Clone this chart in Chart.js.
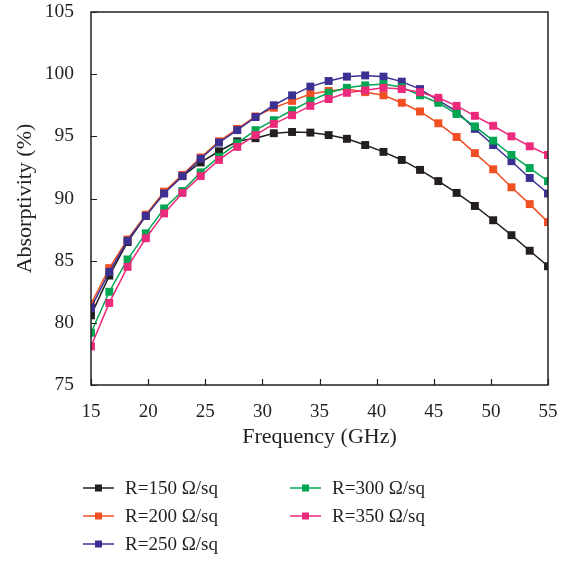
<!DOCTYPE html>
<html lang="en">
<head>
<meta charset="UTF-8">
<title>Absorptivity vs Frequency</title>
<script src="https://cdn.jsdelivr.net/npm/chart.js"></script>
<style>
  html, body { margin: 0; padding: 0; background: #fff; }
  #wrap { width: 576px; height: 561px; }
</style>
</head>
<body>
<div id="wrap"><canvas id="absChart" width="576" height="561"></canvas></div>
<script>
// frequency points (GHz)
const frequency = [15, 16.6, 18.2, 19.8, 21.4, 23, 24.6, 26.2, 27.8, 29.4, 31, 32.6, 34.2,
                   35.8, 37.4, 39, 40.6, 42.2, 43.8, 45.4, 47, 48.6, 50.2, 51.8, 53.4, 55];

// absorptivity (%) for each sheet resistance
const r150 = [80.6, 83.8, 86.5, 88.6, 90.5, 91.8, 92.9, 93.8, 94.6, 94.85, 95.25, 95.35, 95.3,
              95.1, 94.8, 94.3, 93.75, 93.1, 92.3, 91.4, 90.45, 89.4, 88.25, 87.05, 85.8, 84.55];
const r200 = [81.5, 84.4, 86.7, 88.7, 90.55, 91.9, 93.3, 94.6, 95.6, 96.6, 97.3, 97.85, 98.4,
              98.65, 98.8, 98.55, 98.3, 97.7, 97.0, 96.05, 94.95, 93.65, 92.35, 90.9, 89.55, 88.1];
const r250 = [81.2, 84.1, 86.6, 88.6, 90.4, 91.8, 93.2, 94.5, 95.5, 96.55, 97.5, 98.3, 99.0,
              99.45, 99.8, 99.9, 99.8, 99.4, 98.8, 97.9, 97.0, 95.6, 94.3, 93.0, 91.65, 90.4];
const r300 = [79.2, 82.5, 85.1, 87.2, 89.2, 90.6, 92.1, 93.35, 94.45, 95.5, 96.3, 97.1, 97.85,
              98.5, 98.9, 99.1, 99.2, 98.95, 98.3, 97.7, 96.8, 95.8, 94.65, 93.5, 92.45, 91.4];
const r350 = [78.1, 81.6, 84.5, 86.8, 88.8, 90.45, 91.8, 93.1, 94.15, 95.1, 96.0, 96.7, 97.45,
              98.0, 98.5, 98.7, 98.9, 98.8, 98.55, 98.1, 97.45, 96.65, 95.85, 95.0, 94.2, 93.5];

const seriesLabels = ['R=150 \u03A9/sq', 'R=200 \u03A9/sq', 'R=250 \u03A9/sq', 'R=300 \u03A9/sq', 'R=350 \u03A9/sq'];
const seriesValues = [r150, r200, r250, r300, r350];
const seriesColors = ['#231f20', '#f04e23', '#3b3192', '#00a651', '#ec2a7b'];

const xTicks = [15, 20, 25, 30, 35, 40, 45, 50, 55];
const yTicks = [75, 80, 85, 90, 95, 100, 105];

const ink = '#231f20';
const serif = "'Liberation Serif', 'Times New Roman', serif";

// box around plot + inward tick marks on left and bottom
const frameTicks = {
    id: 'frameTicks',
    afterDatasetsDraw(chart) {
        const { ctx, chartArea: a, scales } = chart;
        ctx.save();
        ctx.strokeStyle = ink;
        ctx.lineWidth = 1.5;
        ctx.strokeRect(a.left, a.top, a.right - a.left, a.bottom - a.top);
        ctx.lineWidth = 1.2;
        ctx.beginPath();
        xTicks.forEach(v => {
            const px = Math.round(scales.x.getPixelForValue(v)) + 0.5;
            ctx.moveTo(px, a.bottom);
            ctx.lineTo(px, a.bottom - 6);
        });
        yTicks.forEach(v => {
            const py = Math.round(scales.y.getPixelForValue(v)) + 0.5;
            ctx.moveTo(a.left, py);
            ctx.lineTo(a.left + 6, py);
        });
        ctx.stroke();
        ctx.restore();
    }
};

// two-column legend under the axis
const columnLegend = {
    id: 'columnLegend',
    afterDraw(chart) {
        const ctx = chart.ctx;
        ctx.save();
        ctx.font = '19px ' + serif;
        ctx.textBaseline = 'middle';
        ctx.textAlign = 'left';
        seriesLabels.forEach((label, i) => {
            const col = i < 3 ? 0 : 1;
            const row = i < 3 ? i : i - 3;
            const x0 = col === 0 ? 83 : 290;
            const y = 488 + row * 28;
            ctx.strokeStyle = seriesColors[i];
            ctx.lineWidth = 1.5;
            ctx.beginPath();
            ctx.moveTo(x0, y);
            ctx.lineTo(x0 + 31, y);
            ctx.stroke();
            ctx.fillStyle = seriesColors[i];
            ctx.fillRect(x0 + 12, y - 3.5, 7, 7);
            ctx.fillStyle = ink;
            ctx.fillText(label, x0 + 42, y + 1);
        });
        ctx.restore();
    }
};

const datasets = seriesLabels.map((label, i) => ({
    label: label,
    data: frequency.map((f, k) => ({ x: f, y: seriesValues[i][k] })),
    borderColor: seriesColors[i],
    backgroundColor: seriesColors[i],
    borderWidth: 1.5,
    pointStyle: 'rect',
    pointRadius: 5.6,
    pointBorderWidth: 0,
    tension: 0,
    order: 5 - i
}));

const ctx = document.getElementById('absChart').getContext('2d');
const absChart = new Chart(ctx, {
    type: 'line',
    data: { datasets: datasets },
    options: {
        responsive: false,
        animation: false,
        layout: { padding: { top: 12, right: 28, left: 0, bottom: 106 } },
        plugins: { legend: { display: false }, tooltip: { enabled: false } },
        scales: {
            x: {
                type: 'linear',
                min: 15, max: 55,
                afterFit: s => { s.height = 70; s.paddingLeft = 0; s.paddingRight = 0; },
                afterBuildTicks: s => { s.ticks = xTicks.map(v => ({ value: v })); },
                grid: { display: false },
                border: { display: false },
                ticks: { color: ink, font: { family: serif, size: 19 }, padding: 8, maxRotation: 0 },
                title: { display: true, text: 'Frequency (GHz)', color: ink,
                         font: { family: serif, size: 22 }, padding: { top: 0, bottom: 5 } }
            },
            y: {
                min: 75, max: 105,
                afterFit: s => { s.width = 91; s.paddingTop = 0; s.paddingBottom = 0; },
                afterBuildTicks: s => { s.ticks = yTicks.map(v => ({ value: v })); },
                grid: { display: false },
                border: { display: false },
                ticks: { color: ink, font: { family: serif, size: 19.5 }, padding: 9 },
                title: { display: true, text: 'Absorptivity (%)', color: ink,
                         font: { family: serif, size: 22 }, padding: { top: 12, bottom: 0 } }
            }
        }
    },
    plugins: [frameTicks, columnLegend]
});
</script>
</body>
</html>
